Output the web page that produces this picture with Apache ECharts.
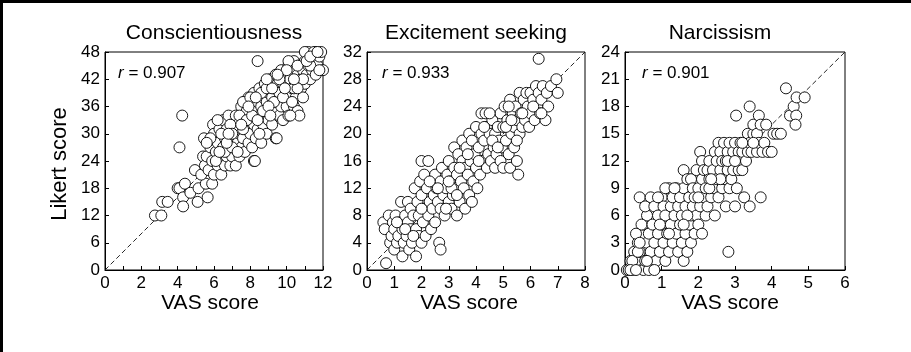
<!DOCTYPE html>
<html><head><meta charset="utf-8">
<script src="https://cdn.jsdelivr.net/npm/echarts@6/dist/echarts.min.js"></script>
<style>html,body{margin:0;padding:0;background:#fff}#c{width:911px;height:352px}</style>
</head><body><div id="c"></div><script>
const panelTitles = ['Conscientiousness', 'Excitement seeking', 'Narcissism'];
const rValues = ['0.907', '0.933', '0.901'];
const xMax = [12, 8, 6];
const yMax = [48, 32, 24];
const yStep = [6, 4, 3];
const xAxisName = 'VAS score';
const yAxisName = 'Likert score';

const consPoints = [
[2.75,12],[3.1,12],[3.15,15],[3.45,15],[4.0,18],[4.1,18],[4.3,16],[4.3,14],[4.4,19],[4.1,27],[4.25,34],[4.7,17],[4.95,22],[5.1,15],[5.15,18],[5.65,16],[5.55,19],[5.4,25],[5.45,29],[5.9,19],[8.4,46],
[5.3,21],[5.5,23],[5.6,25],[5.7,22],[5.8,27],[5.9,24],[5.95,32],[6.0,30],[6.0,21],[6.1,26],[6.2,23],[6.2,28],[6.3,31],[6.4,25],[6.4,21],[6.5,27],[6.5,33],[6.6,23],[6.6,29],[6.7,25],[6.7,31],[6.8,27],[6.8,34],[6.9,23],[6.9,29],[7.0,32],[7.0,25],[7.1,27],[7.1,30],[7.2,34],[7.2,23],[7.3,28],[7.3,32],[7.4,25],[7.4,30],[7.5,36],[7.5,27],[7.6,33],[7.6,29],[7.7,37],[7.7,26],[7.8,31],[7.8,35],[7.9,28],[7.9,38],[8.0,33],[8.0,30],[8.1,36],[8.1,27],[8.2,39],[8.2,24],[8.2,32],[8.3,35],[8.3,29],[8.4,37],[8.4,31],[8.5,34],[8.5,40],[8.6,36],[8.6,28],[8.7,38],[8.7,32],[8.8,35],[8.8,41],[8.9,37],[8.9,30],[9.0,39],[9.0,33],[9.1,36],[9.1,42],[9.2,38],[9.2,32],[9.3,40],[9.3,35],[9.4,43],[9.4,29],[9.5,37],[9.5,41],[9.6,34],[9.6,39],[9.7,44],[9.7,36],[9.8,41],[9.8,33],[9.9,38],[9.9,43],[10.0,36],[10.0,40],[10.1,45],[10.1,34],[10.2,42],[10.2,38],[10.3,40],[10.3,44],[10.4,36],[10.4,46],[10.5,41],[10.5,38],[10.6,43],[10.6,35],[10.7,45],[10.7,34],[10.8,40],[10.8,42],[10.9,44],[10.9,38],[11.0,46],[11.0,41],[11.1,43],[11.2,48],[11.2,45],[11.3,42],[11.4,47],[11.4,44],[11.5,46],[11.6,48],[11.6,43],[11.7,45],[11.8,47],[11.9,48],[12.0,44],[11.0,48],[11.5,48],[10.1,46],[10.6,45],[10.2,34],[9.45,29],[8.25,24],
[7.6,37],[8.0,38],[8.6,39],[7.2,31],[6.4,30],[6.9,32],[7.4,34],[8.9,40],[9.3,37],[9.8,38],[10.4,40],[10.9,42],[11.3,45],[5.8,29],[6.1,24],[6.6,26],[7.0,27],[7.6,31],
[6.2,33],[6.7,28],[7.0,30],[7.3,26],[7.8,33],[8.1,34],[8.4,33],[8.7,35],[9.0,36],[9.2,40],[9.6,42],[10.0,44],[10.3,37],[10.6,40],[11.1,46],[11.3,47],[7.5,32],[8.3,38],[8.9,42],[9.5,43],[9.9,40],[6.3,26],[6.8,30],[5.6,28],[7.9,36],[8.5,30],[9.1,34],[10.4,42],[11.7,48],[11.8,44]
];

const excPoints = [
[0.7,1],[0.6,7],[0.65,6],[0.8,8],[0.85,4],[0.9,5],[0.95,7],[1.0,3],[1.0,6],[1.05,8],[1.1,4],[1.15,5],[1.2,7],[1.25,10],[1.3,2],[1.3,6],[1.35,4],[1.4,8],[1.45,5],[1.5,7],[1.5,10],[1.55,3],[1.6,6],[1.6,9],[1.65,4],[1.7,8],[1.75,12],[1.8,2],[1.8,6],[1.85,10],[1.9,5],[1.9,8],[1.95,13],[2.0,16],[2.0,4],[2.0,11],[2.05,7],[2.1,9],[2.1,14],[2.15,5],[2.2,12],[2.25,16],[2.25,8],[2.3,10],[2.35,6],[2.4,13],[2.4,9],[2.45,11],[2.5,14],[2.5,7],[2.55,12],[2.6,10],[2.65,4],[2.7,3],[2.7,13],[2.7,9],[2.75,15],[2.8,11],[2.85,8],[2.9,12],[2.95,14],[3.0,10],[3.0,16],[3.05,13],[3.1,9],[3.15,11],[3.2,15],[3.2,18],[3.25,12],[3.3,8],[3.3,14],[3.35,17],[3.4,10],[3.45,13],[3.5,16],[3.5,19],[3.55,12],[3.6,9],[3.6,15],[3.65,18],[3.7,14],[3.75,20],[3.75,11],[3.8,16],[3.85,10],[3.85,19],[3.9,13],[3.95,17],[4.0,15],[4.0,21],[4.05,12],[4.1,18],[4.15,14],[4.2,23],[4.2,20],[4.25,16],[4.3,19],[4.35,23],[4.4,15],[4.4,21],[4.45,17],[4.5,20],[4.55,16],[4.6,22],[4.65,18],[4.7,15],[4.7,20],[4.75,17],[4.8,21],[4.85,19],[4.9,16],[4.9,23],[4.95,18],[5.0,21],[5.0,15],[5.05,24],[5.1,19],[5.15,22],[5.2,17],[5.25,15],[5.25,25],[5.3,20],[5.35,23],[5.4,18],[5.4,21],[5.45,24],[5.5,16],[5.5,22],[5.55,14],[5.6,20],[5.6,26],[5.65,23],[5.7,21],[5.75,25],[5.8,22],[5.85,26],[5.9,24],[5.95,21],[6.0,23],[6.0,26],[6.1,25],[6.15,22],[6.2,27],[6.25,24],[6.3,26],[6.3,31],[6.35,23],[6.4,25],[6.45,27],[6.55,22],[6.6,26],[6.65,24],[6.75,27],[6.95,28],[7.0,26],
[1.1,7],[1.4,6],[1.7,5],[2.3,13],[2.6,12],[2.9,9],[3.1,12],[3.4,15],[3.7,17],[4.1,16],[4.3,21],[4.6,19],[4.8,18],[5.1,21],[5.3,22],[5.5,19],[5.7,23],[6.1,24],[6.4,23],[3.0,13],[3.3,11],[2.0,9],[4.5,23],[5.2,24]
];

const narcPoints = [
[0.05,0],[0.1,0],[0.15,1],[0.2,0],[0.25,2],[0.3,1],[0.35,3],[0.4,2],[0.45,4],[0.5,0],[0.5,5],[0.55,1],[0.6,3],[0.6,6],[0.4,8],[0.65,0],[0.7,8],[0.7,2],[0.45,5],[0.3,4],[0.55,7],[0.65,4],[0.2,1],[0.35,2],
[0.75,5],[0.8,3],[0.8,7],[0.85,1],[0.9,4],[0.9,6],[0.95,2],[1.0,5],[1.0,8],[1.05,3],[1.05,7],[1.1,1],[1.1,6],[1.15,4],[1.2,9],[1.2,2],[1.25,5],[1.25,7],[1.3,3],[1.3,8],[1.35,6],[1.4,4],[1.4,9],[1.45,2],[1.45,7],[1.5,5],[1.5,8],[1.55,3],
[1.55,6],[1.6,1],[1.6,9],[1.6,11],[1.65,4],[1.65,7],[1.7,10],[1.7,2],[1.75,5],[1.75,8],[1.8,6],[1.8,3],[1.8,10],[1.85,9],[1.85,7],[1.9,4],[1.9,8],[1.95,6],[1.95,11],[2.0,9],[2.0,5],
[2.05,13],[2.05,7],[2.1,10],[2.1,12],[2.1,4],[2.15,8],[2.15,11],[2.2,6],[2.2,9],[2.25,11],[2.25,7],[2.3,10],[2.3,12],[2.35,8],[2.4,9],[2.4,11],[2.45,6],[2.45,13],[2.5,10],[2.5,12],
[2.55,14],[2.55,8],[2.6,11],[2.6,13],[2.65,9],[2.65,12],[2.7,14],[2.7,10],[2.75,12],[2.75,7],[2.8,11],[2.8,13],[2.82,2],[2.85,9],[2.85,14],[2.9,12],[2.9,10],[2.95,11],[2.95,13],[3.0,7],[3.0,14],[3.03,17],
[3.05,12],[3.05,9],[3.1,11],[3.1,13],[3.15,14],[3.15,12],[3.2,11],[3.2,13],[3.25,8],[3.3,14],[3.3,12],[3.35,15],[3.35,13],[3.4,18],[3.4,7],[3.4,14],[3.45,13],[3.5,15],[3.5,16],[3.55,14],[3.6,13],[3.6,15],
[3.65,17],[3.65,14],[3.7,8],[3.7,16],[3.75,13],[3.8,14],[3.85,16],[3.9,13],[4.0,13],[4.05,15],[4.15,15],[4.25,15],
[4.39,20],[4.5,17],[4.6,18],[4.67,17],[4.65,16],[4.68,19],[4.9,19],
[0.9,8],[1.1,9],[1.35,9],[1.7,6],[2.0,8],[2.3,9],[2.6,10],[2.35,10],[0.95,5],[1.2,4],[1.6,5],[2.8,12],[3.0,12],[3.2,14],[3.5,14],[0.15,0],[0.3,0],[0.6,1],[0.4,3],[0.8,0]
];

const allPoints = [consPoints, excPoints, narcPoints];

const FONT = 'Liberation Sans, Arial, Helvetica, sans-serif';
const gridLefts = [105, 367, 625];
const gridWidths = [218, 218, 220];
const gridTop = 52, gridHeight = 218;
const titleX = [214, 476, 720];
const nameX = [210, 469, 730];
const rX = [118, 382, 642];

const chart = echarts.init(document.getElementById('c'), null, {renderer: 'canvas'});

const grids = [], xAxes = [], yAxes = [], series = [], graphics = [];
for (let i = 0; i < 3; i++) {
  grids.push({left: gridLefts[i], top: gridTop, width: gridWidths[i], height: gridHeight,
    show: true, borderColor: '#000', borderWidth: 1, backgroundColor: 'transparent'});
  xAxes.push({gridIndex: i, type: 'value', min: 0, max: xMax[i], interval: 1,
    axisLine: {show: true, onZero: false, lineStyle: {color: '#000', width: 1}},
    axisTick: {show: true, inside: true, length: 4, lineStyle: {color: '#000'}},
    axisLabel: {color: '#000', fontSize: 17, fontFamily: FONT, margin: 5,
      formatter: (v) => (i === 0 && v % 2 !== 0) ? '' : String(v)},
    splitLine: {show: false}});
  yAxes.push({gridIndex: i, type: 'value', min: 0, max: yMax[i], interval: yStep[i],
    axisLine: {show: true, onZero: false, lineStyle: {color: '#000', width: 1}},
    axisTick: {show: true, inside: true, length: 4, lineStyle: {color: '#000'}},
    axisLabel: {color: '#000', fontSize: 17, fontFamily: FONT, margin: 5},
    splitLine: {show: false}});
  series.push({type: 'line', xAxisIndex: i, yAxisIndex: i, data: [[0, 0], [xMax[i], yMax[i]]],
    symbol: 'none', silent: true, z: 1,
    lineStyle: {color: '#111', width: 0.9, type: [5, 3]}});
  series.push({type: 'scatter', xAxisIndex: i, yAxisIndex: i, data: allPoints[i], z: 2,
    symbol: 'circle', symbolSize: 11,
    itemStyle: {color: '#fff', borderColor: '#000', borderWidth: 0.9, opacity: 1},
    emphasis: {disabled: true}});
  graphics.push({type: 'text', x: titleX[i], y: 33, style: {text: panelTitles[i], font: '21px ' + FONT,
    fill: '#000', textAlign: 'center', textVerticalAlign: 'middle'}});
  graphics.push({type: 'text', x: nameX[i], y: 303, style: {text: xAxisName, font: '21px ' + FONT,
    fill: '#000', textAlign: 'center', textVerticalAlign: 'middle'}});
  graphics.push({type: 'text', x: rX[i], y: 73, style: {
    text: '{it|r} = ' + rValues[i],
    rich: {it: {fontStyle: 'italic', fontSize: 17, fontFamily: FONT, fill: '#000'}},
    fontSize: 17, fontFamily: FONT, fill: '#000', textAlign: 'left', textVerticalAlign: 'middle'}});
}
graphics.push({type: 'text', x: 60, y: 164, rotation: Math.PI / 2, style: {text: yAxisName,
  font: '22px ' + FONT, fill: '#000', textAlign: 'center', textVerticalAlign: 'middle'}});
graphics.push({type: 'line', shape: {x1: 0, y1: 1.5, x2: 911, y2: 1.5}, style: {stroke: '#000', lineWidth: 3}});
graphics.push({type: 'line', shape: {x1: 1.5, y1: 0, x2: 1.5, y2: 352}, style: {stroke: '#000', lineWidth: 3}});

chart.setOption({
  animation: false,
  backgroundColor: '#fff',
  grid: grids, xAxis: xAxes, yAxis: yAxes, series: series, graphic: graphics
});
</script></body></html>
